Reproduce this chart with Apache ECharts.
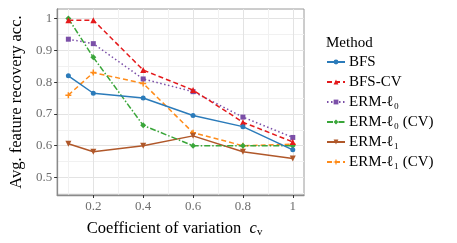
<!DOCTYPE html>
<html><head><meta charset="utf-8">
<script src="https://cdn.jsdelivr.net/npm/echarts@6/dist/echarts.min.js"></script>
<style>html,body{margin:0;padding:0;background:#fff}#c{width:457px;height:243px}</style>
</head><body><div id="c"></div>
<script>
const cv = [0.1, 0.2, 0.4, 0.6, 0.8, 1.0];
const xTicks = [0.2, 0.4, 0.6, 0.8, 1.0];
const yTicks = [0.5, 0.6, 0.7, 0.8, 0.9, 1.0];
const seriesNames = ['BFS', 'BFS-CV', 'ERM-ℓ₀', 'ERM-ℓ₀ (CV)', 'ERM-ℓ₁', 'ERM-ℓ₁ (CV)'];
const bfs     = [0.820, 0.765, 0.750, 0.695, 0.660, 0.587];
const bfsCv   = [0.995, 0.995, 0.838, 0.775, 0.674, 0.612];
const erml0   = [0.935, 0.921, 0.810, 0.770, 0.690, 0.626];
const erml0Cv = [1.000, 0.878, 0.664, 0.600, 0.600, 0.600];
const erml1   = [0.606, 0.581, 0.600, 0.631, 0.581, 0.560];
const erml1Cv = [0.759, 0.830, 0.796, 0.641, 0.600, 0.605];

const FONT = '"Liberation Serif","DejaVu Serif",serif';
const MAJ = '#e3e3e3', MIN = '#f1f1f1', NONE = 'rgba(0,0,0,0)';
// x grid axis: ticks at 0.055 + 0.005 i ; period 0.2 => 40
const xCols = []; for (let i = 0; i < 40; i++) xCols.push(i === 29 ? MAJ : (i === 9 ? MIN : NONE));
// y grid axis: ticks at 0.445 + 0.005 i ; period 0.1 => 20
const yCols = []; for (let i = 0; i < 20; i++) yCols.push(i === 11 ? MAJ : (i === 1 ? MIN : NONE));

const styles = [
  {color:'#2b7bba', type:'solid', symbol:'circle', size:5},
  {color:'#e41a1c', type:[5,3], symbol:'triangle', size:6},
  {color:'#7b4fa8', type:[1.5,2.5], symbol:'rect', size:5},
  {color:'#3aa63a', type:[6,2,1.5,2], symbol:'diamond', size:6},
  {color:'#b0582a', type:'solid', symbol:'triangle', size:6, rotate:180},
  {color:'#ff8c1a', type:[5,3], symbol:'path://M-1,-4L1,-4L1,-1L4,-1L4,1L1,1L1,4L-1,4L-1,1L-4,1L-4,-1L-1,-1Z', size:6}
];
const vals = [bfs, bfsCv, erml0, erml0Cv, erml1, erml1Cv];

const chart = echarts.init(document.getElementById('c'), null, {renderer:'canvas'});
const xMin = 0.055, xMax = 1.045, yMin = 0.445, yMax = 1.03;
chart.setOption({
  animation: false,
  textStyle: {fontFamily: FONT},
  grid: {left: 50, right: 153, top: 9, bottom: 44.5, show: true, borderColor: '#9a9a9a', borderWidth: 1},
  graphic: [{type:'text', left: 326, top: 36, style:{text:'Method', font:'15px ' + FONT, fill:'#000'}}],
  legend: {
    orient: 'vertical', left: 326, top: 54.5, padding: 0, itemWidth: 18, itemHeight: 6, itemGap: 5,
    textStyle: {fontFamily: FONT, fontSize: 15, color: '#000', lineHeight: 15, padding:[0,0,0,-1]},
    data: seriesNames
  },
  xAxis: [
    {type:'value', min:xMin, max:xMax, interval:0.005,
     axisLine:{show:false}, axisTick:{show:false}, axisLabel:{show:false},
     splitLine:{show:true, lineStyle:{color:xCols, width:1}}},
    {type:'value', min:xMin, max:xMax, position:'bottom',
     axisLine:{show:true, lineStyle:{color:'#8a8a8a', width:1.3}},
     axisTick:{show:true, customValues:xTicks, length:3, lineStyle:{color:'#333'}},
     axisLabel:{show:true, customValues:xTicks, color:'#6e6e6e', fontSize:13, fontFamily:FONT, margin:5,
       formatter: v => (Math.abs(v-1)<1e-9 ? '1' : v.toFixed(1))},
     splitLine:{show:false},
     name:'Coefficient of variation  {c|c}{v|v}', nameLocation:'middle', nameGap:25,
     nameTextStyle:{fontFamily:FONT, fontSize:16.5, color:'#000', padding:[0,12,0,0],
       rich:{c:{fontFamily:FONT, fontSize:16.5, fontStyle:'italic', color:'#000'},
             v:{fontFamily:FONT, fontSize:11, color:'#000', padding:[7,0,0,0]}}}}
  ],
  yAxis: [
    {type:'value', min:yMin, max:yMax, interval:0.005,
     axisLine:{show:false}, axisTick:{show:false}, axisLabel:{show:false},
     splitLine:{show:true, lineStyle:{color:yCols, width:1}}},
    {type:'value', min:yMin, max:yMax, position:'left',
     axisLine:{show:true, lineStyle:{color:'#8a8a8a', width:1.3}},
     axisTick:{show:true, customValues:yTicks, length:3, lineStyle:{color:'#333'}},
     axisLabel:{show:true, customValues:yTicks, color:'#6e6e6e', fontSize:13, fontFamily:FONT, margin:5,
       formatter: v => (Math.abs(v-1)<1e-9 ? '1' : v.toFixed(1))},
     splitLine:{show:false},
     name:'Avg. feature recovery acc.', nameLocation:'middle', nameGap:31,
     nameTextStyle:{fontFamily:FONT, fontSize:16.5, color:'#000'}}
  ],
  series: seriesNames.map((n, k) => ({
    name: n, type: 'line', xAxisIndex: 0, yAxisIndex: 0,
    data: cv.map((x, i) => [x, vals[k][i]]),
    symbol: styles[k].symbol, symbolSize: styles[k].size, symbolRotate: styles[k].rotate || 0,
    showSymbol: true,
    itemStyle: {color: styles[k].color},
    lineStyle: {color: styles[k].color, width: 1.5, type: styles[k].type, cap: 'butt'},
    z: 10 - k
  }))
});
</script></body></html>
